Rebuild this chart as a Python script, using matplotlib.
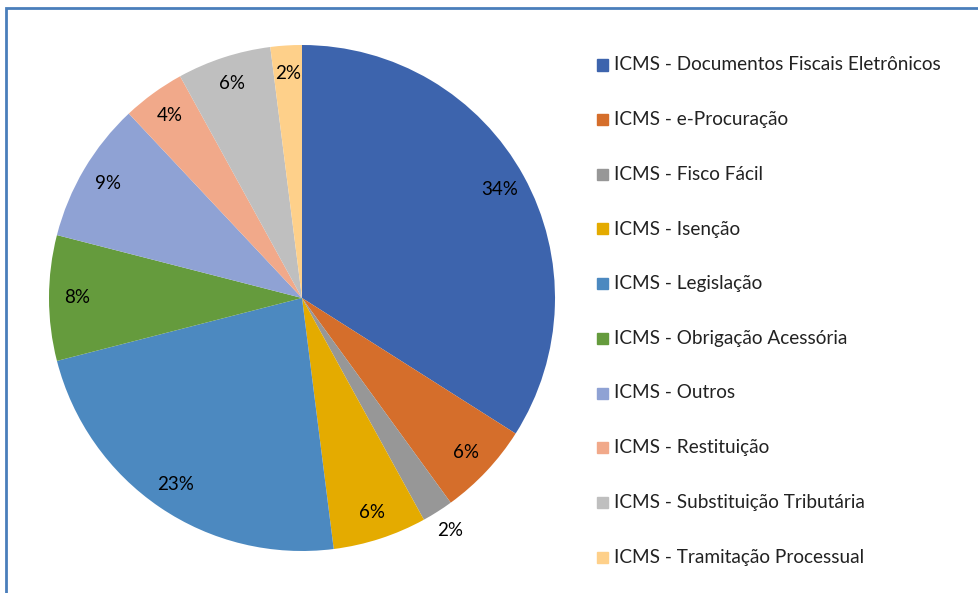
import numpy as np
import matplotlib
matplotlib.use("Agg")
import matplotlib.pyplot as plt
from matplotlib.patches import Rectangle

categories = [
    "ICMS - Documentos Fiscais Eletrônicos",
    "ICMS - e-Procuração",
    "ICMS - Fisco Fácil",
    "ICMS - Isenção",
    "ICMS - Legislação",
    "ICMS - Obrigação Acessória",
    "ICMS - Outros",
    "ICMS - Restituição",
    "ICMS - Substituição Tributária",
    "ICMS - Tramitação Processual",
]
values = [34, 6, 2, 6, 23, 8, 9, 4, 6, 2]
colors = ["#3D64AD", "#D56E2B", "#979797", "#E4AB00", "#4C89C0",
          "#659B3D", "#8FA2D4", "#F1A98A", "#BFBFBF", "#FED08A"]

plt.rcParams['font.family'] = ['Lato', 'DejaVu Sans']

W, H = 979, 593
fig = plt.figure(figsize=(W / 100, H / 100), dpi=100)

cx, cy, r = 302, 298, 253
ax = fig.add_axes([(cx - r) / W, (H - cy - r) / H, 2 * r / W, 2 * r / H])
wedges, _ = ax.pie(values, colors=colors, startangle=90, counterclock=False,
                   radius=1, wedgeprops=dict(linewidth=0))
ax.set_xlim(-1, 1)
ax.set_ylim(-1, 1)
ax.set_aspect('equal')
ax.axis('off')

# percentage labels, the small grey one sits outside the pie
for i, w in enumerate(wedges):
    mid = np.deg2rad((w.theta1 + w.theta2) / 2)
    d = 1.09 if i == 2 else 0.89
    ax.text(d * np.cos(mid), d * np.sin(mid), f"{values[i]}%",
            ha='center', va='center', fontsize=13.5, color='black')

# legend
ys = np.linspace(65, 557, len(categories))
for name, col, y in zip(categories, colors, ys):
    fig.patches.append(Rectangle(((597) / W, (H - y - 5.5) / H), 11 / W, 11 / H,
                                 transform=fig.transFigure, color=col, figure=fig))
    fig.text(614 / W, (H - y) / H, name, ha='left', va='center',
             fontsize=13.7, color='#222222')

# chart border
fig.patches.append(Rectangle((6 / W, -0.1), 1.2, (H - 8) / H + 0.1,
                             transform=fig.transFigure, fill=False,
                             edgecolor='#4A7EBB', linewidth=2, figure=fig))

fig.savefig("out.png", dpi=100)
